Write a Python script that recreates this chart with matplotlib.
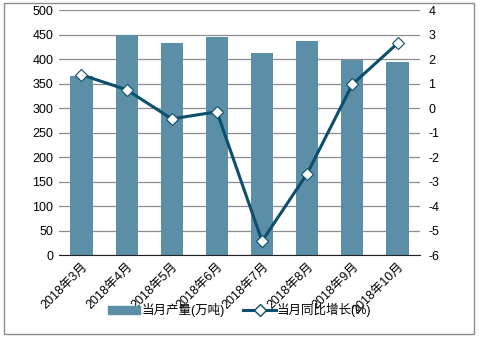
import matplotlib.pyplot as plt
from matplotlib.patches import Rectangle
from matplotlib.lines import Line2D

plt.rcParams['font.family'] = ['Liberation Sans', 'Noto Sans CJK SC', 'DejaVu Sans']
plt.rcParams['axes.unicode_minus'] = False

months = ['2018年3月', '2018年4月', '2018年5月', '2018年6月',
          '2018年7月', '2018年8月', '2018年9月', '2018年10月']
output = [365, 449, 433, 445, 413, 437, 399, 394]
growth = [1.36, 0.75, -0.44, -0.15, -5.43, -2.67, 0.97, 2.64]

bar_color = '#5B8FA8'
line_color = '#0B4F6C'

fig = plt.figure(figsize=(4.79, 3.37), dpi=100)
ax = fig.add_axes([0.123, 0.243, 0.754, 0.727])
x = list(range(len(months)))
ax.bar(x, output, width=0.49, color=bar_color, zorder=2)
ax.set_ylim(0, 500)
ax.set_xlim(-0.5, len(months) - 0.5)
ax.set_yticks(range(0, 501, 50))
ax.grid(axis='y', color='#8c8c8c', linewidth=0.9, zorder=0)
ax.set_axisbelow(True)
for s in ['left', 'right', 'top']:
    ax.spines[s].set_visible(False)
ax.spines['bottom'].set_color('#222222')
ax.tick_params(axis='both', length=0, labelsize=9, pad=4)
ax.set_xticks(x)
ax.set_xticklabels(months, rotation=45, ha='right', rotation_mode='anchor', fontsize=9)

ax2 = ax.twinx()
ax2.plot(x, growth, color=line_color, linewidth=2.2, marker='D', markersize=6.5,
         markerfacecolor='white', markeredgecolor=line_color, markeredgewidth=0.8, zorder=3)
ax2.set_ylim(-6, 4)
ax2.set_yticks(range(-6, 5))
for s in ax2.spines.values():
    s.set_visible(False)
ax2.tick_params(axis='y', length=0, labelsize=9, pad=6)

handles = [Rectangle((0, 0), 1, 1, color=bar_color),
           Line2D([], [], color=line_color, linewidth=2.2, marker='D', markersize=6,
                  markerfacecolor='white', markeredgecolor=line_color)]
fig.legend(handles, ['当月产量(万吨)', '当月同比增长(%)'], loc='lower center',
           bbox_to_anchor=(0.5, 0.025), ncol=2, frameon=False, fontsize=9,
           handlelength=2.6, handletextpad=0.1, columnspacing=1.5)

fig.add_artist(Rectangle((0.008, 0.01), 0.982, 0.982, transform=fig.transFigure,
                         fill=False, edgecolor='#8c8c8c', linewidth=1))

fig.savefig('out.png', dpi=100)
